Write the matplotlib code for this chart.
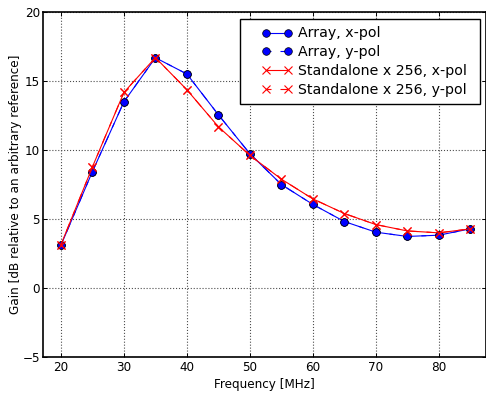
import matplotlib
matplotlib.use("Agg")
import matplotlib.pyplot as plt
from matplotlib.legend_handler import HandlerLine2D

freq = [20, 25, 30, 35, 40, 45, 50, 55, 60, 65, 70, 75, 80, 85]
array_x = [3.12, 8.45, 13.5, 16.69, 15.51, 12.56, 9.74, 7.51, 6.07, 4.83, 4.06, 3.75, 3.84, 4.30]
array_y = [3.12, 8.45, 13.5, 16.69, 15.51, 12.56, 9.74, 7.51, 6.07, 4.83, 4.06, 3.75, 3.84, 4.30]
stand_x = [3.15, 8.79, 14.18, 16.70, 14.37, 11.69, 9.62, 7.90, 6.47, 5.41, 4.61, 4.15, 4.01, 4.30]
stand_y = [3.15, 8.79, 14.18, 16.70, 14.37, 11.69, 9.62, 7.90, 6.47, 5.41, 4.61, 4.15, 4.01, 4.30]

plt.rcParams['font.family'] = ['DejaVu Sans']
plt.rcParams['font.size'] = 8.64

fig = plt.figure(figsize=(4.86, 3.94), dpi=100)
ax = fig.add_axes([42.7 / 486, 1 - 357.3 / 394, (486 - 42.7) / 486, (357.3 - 12) / 394])

lw = 0.8
dash = (0, (4.5, 8.1, 8.1, 8.1))
ax.plot(freq, array_x, color='b', linestyle='-', marker='o', markersize=5.5,
        markeredgecolor='k', markeredgewidth=0.5, linewidth=lw, label='Array, x-pol')
ax.plot(freq, array_y, color='b', linestyle=dash, marker='o', markersize=5.5,
        markeredgecolor='k', markeredgewidth=0.5, linewidth=lw, label='Array, y-pol')
ax.plot(freq, stand_x, color='r', linestyle='-', marker='x', markersize=5.5,
        markeredgewidth=0.8, linewidth=lw, label='Standalone x 256, x-pol')
ax.plot(freq, stand_y, color='r', linestyle=dash, marker='x', markersize=5.5,
        markeredgewidth=0.8, linewidth=lw, label='Standalone x 256, y-pol')

ax.set_xlim(17.1, 87.5)
ax.set_ylim(-5, 20)
ax.set_xticks([20, 30, 40, 50, 60, 70, 80])
ax.set_yticks([-5, 0, 5, 10, 15, 20])
ax.grid(True, color='0.3', linestyle=':', linewidth=0.8)
ax.tick_params(direction='in', length=3, width=0.7, top=True, right=True)
ax.tick_params(axis='x', pad=2.8)
ax.tick_params(axis='y', pad=2.0)
for s in ax.spines.values():
    s.set_linewidth(1.2)

ax.set_xlabel('Frequency [MHz]', labelpad=3)
ax.set_ylabel('Gain [dB relative to an arbitrary reference]', labelpad=0)

x0 = (240.3 - 42.7) / (486 - 42.7)
w = (480 - 240.3) / (486 - 42.7)
ytop = 1 - (18.7 - 12) / (357.3 - 12)
leg = ax.legend(loc='upper left', bbox_to_anchor=(x0, 0.5, w, ytop - 0.5),
                mode='expand', borderaxespad=0, numpoints=2, fancybox=False,
                framealpha=1, edgecolor='k', fontsize=10.2,
                handlelength=4.1, handletextpad=-0.55, borderpad=0.55,
                labelspacing=0.33,
                handler_map={plt.Line2D: HandlerLine2D(marker_pad=1.25)})
leg.get_frame().set_linewidth(1.0)

fig.savefig('out.png', dpi=100, facecolor='white')
